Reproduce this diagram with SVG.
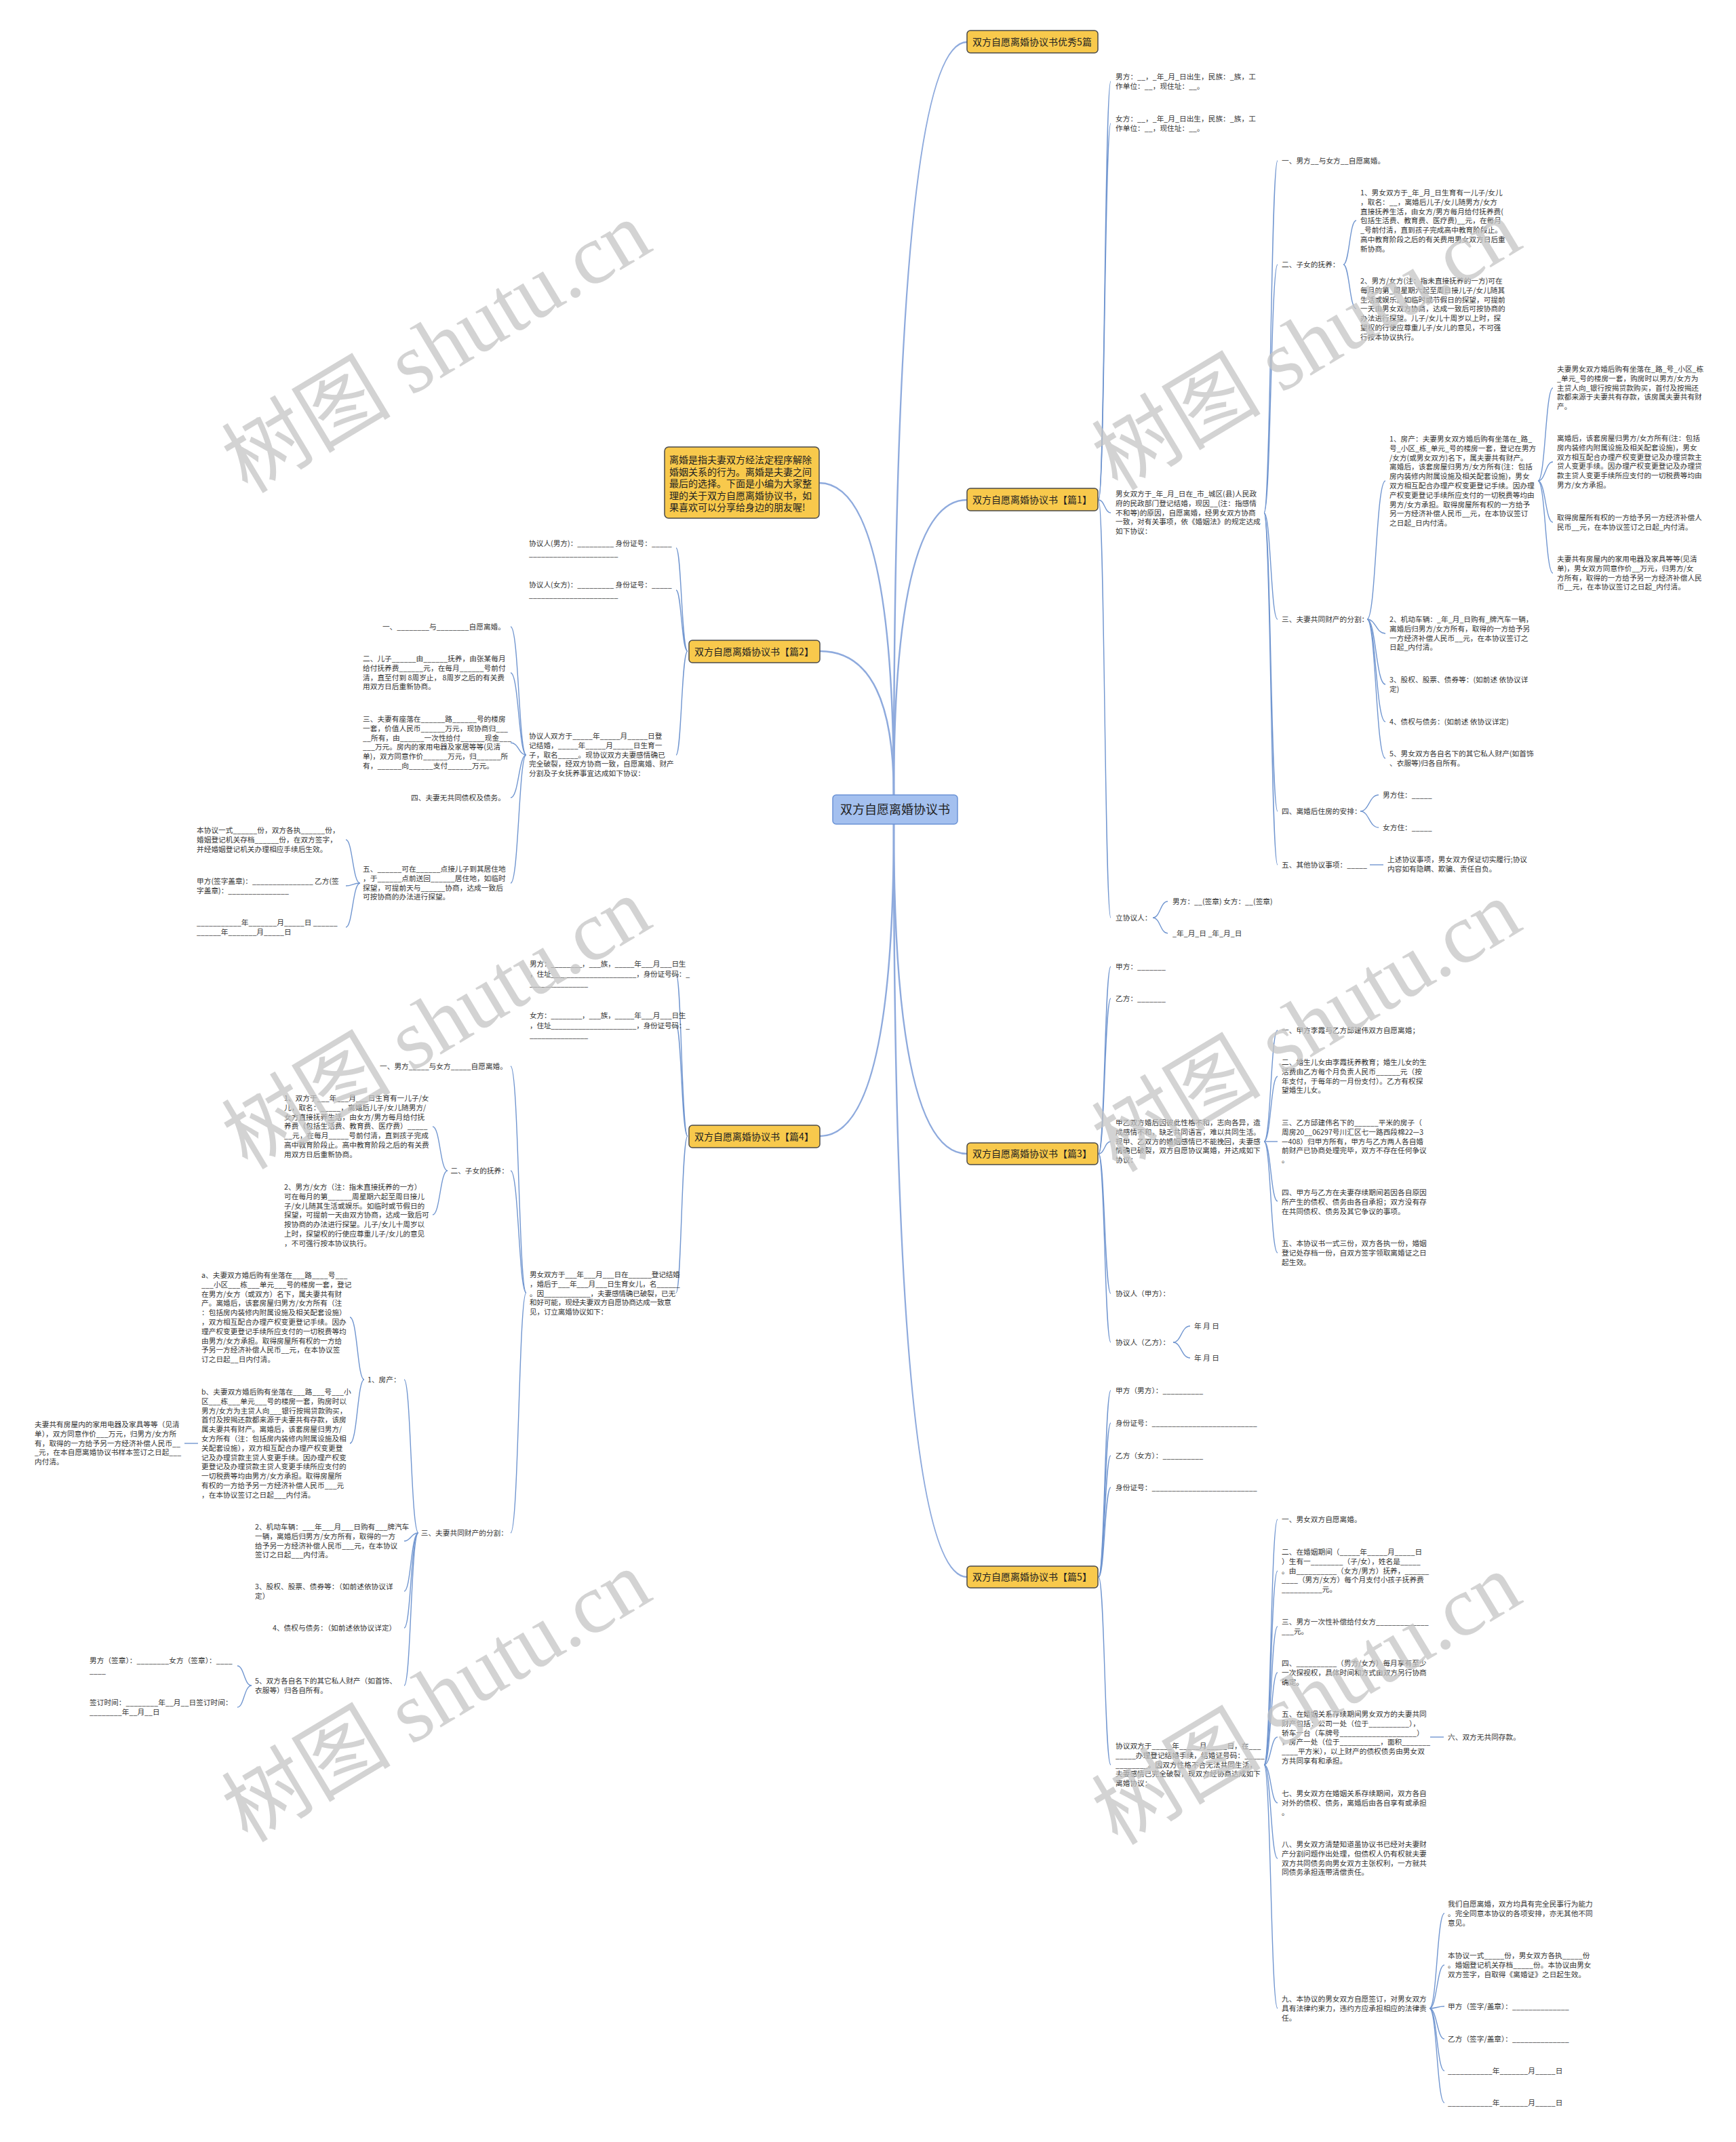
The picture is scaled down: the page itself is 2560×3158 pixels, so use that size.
<svg xmlns="http://www.w3.org/2000/svg" width="2560" height="3158" viewBox="0 0 2560 3158">
<style>
.t{font-family:"Noto Sans CJK SC","Noto Sans",sans-serif;font-size:10.7px;fill:#333}
.n{letter-spacing:-0.25px}
.bt{font-family:"Noto Sans CJK SC","Noto Sans",sans-serif;font-size:14px;fill:#222}
.ct{font-family:"Noto Sans CJK SC","Noto Sans",sans-serif;font-size:18px;fill:#222}
.yb{fill:#f8c94c;stroke:#4a4a4a;stroke-width:1.5}
.cb{fill:#a4c0ef;stroke:#6b93d6;stroke-width:1.5}
.m{fill:none;stroke:#8eaadd;stroke-width:2.5}
.c{fill:none;stroke:#7196d0;stroke-width:1.4}
.wm{font-family:"Liberation Serif","Noto Sans CJK SC",serif;font-size:125px;fill:#c4c4c4;fill-opacity:0.75}
</style>
<rect width="2560" height="3158" fill="#ffffff"/>
<g id="connectors">
<path class="m" d="M1318 1172 Q1318 62 1426 62"/>
<path class="m" d="M1318 1172 Q1318 737 1426 737"/>
<path class="m" d="M1318 1172 Q1318 712 1208 712"/>
<path class="m" d="M1318 1172 Q1318 960 1209 960"/>
<path class="m" d="M1318 1215 Q1318 1701 1426 1701"/>
<path class="m" d="M1318 1215 Q1318 2325 1426 2325"/>
<path class="m" d="M1318 1215 Q1318 1675 1209 1675"/>
<path class="c" d="M1620 737 C1629 737 1629 120 1638 120"/>
<path class="c" d="M1620 737 C1629 737 1629 182 1638 182"/>
<path class="c" d="M1620 737 C1629 737 1629 756 1638 756"/>
<path class="c" d="M1620 737 C1629 737 1629 1353 1638 1353"/>
<path class="c" d="M1864 756 C1874 756 1874 237 1884 237"/>
<path class="c" d="M1864 756 C1874 756 1874 390 1884 390"/>
<path class="c" d="M1864 756 C1874 756 1874 913 1884 913"/>
<path class="c" d="M1864 756 C1874 756 1874 1196 1884 1196"/>
<path class="c" d="M1864 756 C1874 756 1874 1275 1884 1275"/>
<path class="c" d="M1981 390 C1990 390 1990 325 2000 325"/>
<path class="c" d="M1981 390 C1990 390 1990 455 2000 455"/>
<path class="c" d="M2016 913 C2029 913 2029 709 2043 709"/>
<path class="c" d="M2016 913 C2029 913 2029 934 2043 934"/>
<path class="c" d="M2016 913 C2029 913 2029 1009 2043 1009"/>
<path class="c" d="M2016 913 C2029 913 2029 1064 2043 1064"/>
<path class="c" d="M2016 913 C2029 913 2029 1118 2043 1118"/>
<path class="c" d="M2268 709 C2279 709 2279 572 2290 572"/>
<path class="c" d="M2268 709 C2279 709 2279 681 2290 681"/>
<path class="c" d="M2268 709 C2279 709 2279 770 2290 770"/>
<path class="c" d="M2268 709 C2279 709 2279 845 2290 845"/>
<path class="c" d="M2006 1196 C2019 1196 2019 1172 2033 1172"/>
<path class="c" d="M2006 1196 C2019 1196 2019 1220 2033 1220"/>
<path class="c" d="M2020 1275 L2040 1275"/>
<path class="c" d="M1700 1353 C1711 1353 1711 1329 1722 1329"/>
<path class="c" d="M1700 1353 C1711 1353 1711 1376 1722 1376"/>
<path class="c" d="M1620 1701 C1629 1701 1629 1425 1638 1425"/>
<path class="c" d="M1620 1701 C1629 1701 1629 1472 1638 1472"/>
<path class="c" d="M1620 1701 C1629 1701 1629 1683 1638 1683"/>
<path class="c" d="M1620 1701 C1629 1701 1629 1907 1638 1907"/>
<path class="c" d="M1620 1701 C1629 1701 1629 1979 1638 1979"/>
<path class="c" d="M1864 1683 C1874 1683 1874 1519 1884 1519"/>
<path class="c" d="M1864 1683 C1874 1683 1874 1587 1884 1587"/>
<path class="c" d="M1864 1683 C1874 1683 1874 1683 1884 1683"/>
<path class="c" d="M1864 1683 C1874 1683 1874 1771 1884 1771"/>
<path class="c" d="M1864 1683 C1874 1683 1874 1847 1884 1847"/>
<path class="c" d="M1730 1979 C1742 1979 1742 1955 1755 1955"/>
<path class="c" d="M1730 1979 C1742 1979 1742 2002 1755 2002"/>
<path class="c" d="M1620 2325 C1629 2325 1629 2050 1638 2050"/>
<path class="c" d="M1620 2325 C1629 2325 1629 2098 1638 2098"/>
<path class="c" d="M1620 2325 C1629 2325 1629 2146 1638 2146"/>
<path class="c" d="M1620 2325 C1629 2325 1629 2193 1638 2193"/>
<path class="c" d="M1620 2325 C1629 2325 1629 2602 1638 2602"/>
<path class="c" d="M1864 2602 C1874 2602 1874 2240 1884 2240"/>
<path class="c" d="M1864 2602 C1874 2602 1874 2316 1884 2316"/>
<path class="c" d="M1864 2602 C1874 2602 1874 2398 1884 2398"/>
<path class="c" d="M1864 2602 C1874 2602 1874 2466 1884 2466"/>
<path class="c" d="M1864 2602 C1874 2602 1874 2561 1884 2561"/>
<path class="c" d="M1864 2602 C1874 2602 1874 2658 1884 2658"/>
<path class="c" d="M1864 2602 C1874 2602 1874 2740 1884 2740"/>
<path class="c" d="M1864 2602 C1874 2602 1874 2961 1884 2961"/>
<path class="c" d="M2109 2561 L2129 2561"/>
<path class="c" d="M2108 2961 C2119 2961 2119 2821 2130 2821"/>
<path class="c" d="M2108 2961 C2119 2961 2119 2897 2130 2897"/>
<path class="c" d="M2108 2961 C2119 2961 2119 2958 2130 2958"/>
<path class="c" d="M2108 2961 C2119 2961 2119 3006 2130 3006"/>
<path class="c" d="M2108 2961 C2119 2961 2119 3053 2130 3053"/>
<path class="c" d="M2108 2961 C2119 2961 2119 3100 2130 3100"/>
<path class="c" d="M1014 960 C1005 960 1005 808 997 808"/>
<path class="c" d="M1014 960 C1005 960 1005 870 997 870"/>
<path class="c" d="M1014 960 C1005 960 1005 1113 997 1113"/>
<path class="c" d="M776 1113 C765 1113 765 924 753 924"/>
<path class="c" d="M776 1113 C765 1113 765 992 753 992"/>
<path class="c" d="M776 1113 C765 1113 765 1095 753 1095"/>
<path class="c" d="M776 1113 C765 1113 765 1176 753 1176"/>
<path class="c" d="M776 1113 C765 1113 765 1302 753 1302"/>
<path class="c" d="M531 1302 C520 1302 520 1238 510 1238"/>
<path class="c" d="M531 1302 C520 1302 520 1306 510 1306"/>
<path class="c" d="M531 1302 C520 1302 520 1367 510 1367"/>
<path class="c" d="M1014 1675 C1005 1675 1005 1436 997 1436"/>
<path class="c" d="M1014 1675 C1005 1675 1005 1511 997 1511"/>
<path class="c" d="M1014 1675 C1005 1675 1005 1906 997 1906"/>
<path class="c" d="M776 1906 C765 1906 765 1572 753 1572"/>
<path class="c" d="M776 1906 C765 1906 765 1726 753 1726"/>
<path class="c" d="M776 1906 C765 1906 765 2260 753 2260"/>
<path class="c" d="M660 1726 C649 1726 649 1661 638 1661"/>
<path class="c" d="M660 1726 C649 1726 649 1791 638 1791"/>
<path class="c" d="M617 2260 C606 2260 606 2034 596 2034"/>
<path class="c" d="M617 2260 C606 2260 606 2272 596 2272"/>
<path class="c" d="M617 2260 C606 2260 606 2346 596 2346"/>
<path class="c" d="M617 2260 C606 2260 606 2400 596 2400"/>
<path class="c" d="M617 2260 C606 2260 606 2485 596 2485"/>
<path class="c" d="M537 2034 C527 2034 527 1942 516 1942"/>
<path class="c" d="M537 2034 C527 2034 527 2128 516 2128"/>
<path class="c" d="M292 2128 L272 2128"/>
<path class="c" d="M371 2485 C360 2485 360 2456 350 2456"/>
<path class="c" d="M371 2485 C360 2485 360 2517 350 2517"/>
</g>

<g id="center">
<rect class="cb" x="1228" y="1172" width="184" height="43" rx="5"/>
<text class="ct" x="1320" y="1200" text-anchor="middle">双方自愿离婚协议书</text>
</g>
<g id="title">
<rect class="yb" x="1426" y="45" width="193" height="33" rx="5"/>
<text class="bt" x="1522" y="67" text-anchor="middle">双方自愿离婚协议书优秀5篇</text>
</g>
<g id="intro">
<rect class="yb" x="980" y="659" width="228" height="105" rx="6"/>
<text class="bt" x="987" y="683"><tspan x="987">离婚是指夫妻双方经法定程序解除</tspan><tspan x="987" dy="17.6">婚姻关系的行为。离婚是夫妻之间</tspan><tspan x="987" dy="17.6">最后的选择。下面是小编为大家整</tspan><tspan x="987" dy="17.6">理的关于双方自愿离婚协议书，如</tspan><tspan x="987" dy="17.6">果喜欢可以分享给身边的朋友喔!</tspan></text>
</g>

<g id="p1">
<rect class="yb" x="1426" y="720" width="193" height="33" rx="5"/>
<text class="bt" x="1522" y="742" text-anchor="middle">双方自愿离婚协议书【篇1】</text>
</g>
<g id="p1-man"><text class="t" x="1645" y="117"><tspan x="1645">男方：__，_年_月_日出生，民族：_族，工</tspan><tspan x="1645" dy="13.8">作单位：__，现住址：__。</tspan></text></g>
<g id="p1-woman"><text class="t" x="1645" y="179"><tspan x="1645">女方：__，_年_月_日出生，民族：_族，工</tspan><tspan x="1645" dy="13.8">作单位：__，现住址：__。</tspan></text></g>
<g id="p1-root"><text class="t" x="1645" y="732"><tspan x="1645">男女双方于_年_月_日在_市_城区(县)人民政</tspan><tspan x="1645" dy="13.8">府的民政部门登记结婚，现因__(注：指感情</tspan><tspan x="1645" dy="13.8">不和等)的原因，自愿离婚，经男女双方协商</tspan><tspan x="1645" dy="13.8">一致，对有关事项，依《婚姻法》的规定达成</tspan><tspan x="1645" dy="13.8">如下协议：</tspan></text></g>
<g id="p1-1"><text class="t" x="1890" y="241">一、男方__与女方__自愿离婚。</text></g>
<g id="p1-2"><text class="t" x="1890" y="394">二、子女的抚养：</text></g>
<g id="p1-2-1"><text class="t" x="2006" y="288"><tspan x="2006">1、男女双方于_年_月_日生育有一儿子/女儿</tspan><tspan x="2006" dy="13.8">，取名：__，离婚后儿子/女儿随男方/女方</tspan><tspan x="2006" dy="13.8">直接抚养生活，由女方/男方每月给付抚养费(</tspan><tspan x="2006" dy="13.8">包括生活费、教育费、医疗费)__元，在每月</tspan><tspan x="2006" dy="13.8">_号前付清，直到孩子完成高中教育阶段止。</tspan><tspan x="2006" dy="13.8">高中教育阶段之后的有关费用男女双方日后重</tspan><tspan x="2006" dy="13.8">新协商。</tspan></text></g>
<g id="p1-2-2"><text class="t" x="2006" y="418"><tspan x="2006">2、男方/女方(注：指未直接抚养的一方)可在</tspan><tspan x="2006" dy="13.8">每月的第_周星期六起至周日接儿子/女儿随其</tspan><tspan x="2006" dy="13.8">生活或娱乐。如临时或节假日的探望，可提前</tspan><tspan x="2006" dy="13.8">一天由男女双方协商，达成一致后可按协商的</tspan><tspan x="2006" dy="13.8">办法进行探望。儿子/女儿十周岁以上时，探</tspan><tspan x="2006" dy="13.8">望权的行使应尊重儿子/女儿的意见，不可强</tspan><tspan x="2006" dy="13.8">行按本协议执行。</tspan></text></g>
<g id="p1-3"><text class="t" x="1890" y="917">三、夫妻共同财产的分割：</text></g>
<g id="p1-3-1"><text class="t" x="2049" y="651"><tspan x="2049">1、房产：夫妻男女双方婚后购有坐落在_路_</tspan><tspan x="2049" dy="13.8">号_小区_栋_单元_号的楼房一套，登记在男方</tspan><tspan x="2049" dy="13.8">/女方(或男女双方)名下，属夫妻共有财产。</tspan><tspan x="2049" dy="13.8">离婚后，该套房屋归男方/女方所有(注：包括</tspan><tspan x="2049" dy="13.8">房内装修内附属设施及相关配套设施)，男女</tspan><tspan x="2049" dy="13.8">双方相互配合办理产权变更登记手续。因办理</tspan><tspan x="2049" dy="13.8">产权变更登记手续所应支付的一切税费等均由</tspan><tspan x="2049" dy="13.8">男方/女方承担。取得房屋所有权的一方给予</tspan><tspan x="2049" dy="13.8">另一方经济补偿人民币__元，在本协议签订</tspan><tspan x="2049" dy="13.8">之日起_日内付清。</tspan></text></g>
<g id="p1-3-1-a"><text class="t" x="2296" y="548"><tspan x="2296">夫妻男女双方婚后购有坐落在_路_号_小区_栋</tspan><tspan x="2296" dy="13.8">_单元_号的楼房一套，购房时以男方/女方为</tspan><tspan x="2296" dy="13.8">主贷人向_银行按揭贷款购买，首付及按揭还</tspan><tspan x="2296" dy="13.8">款都来源于夫妻共有存款，该房属夫妻共有财</tspan><tspan x="2296" dy="13.8">产。</tspan></text></g>
<g id="p1-3-1-b"><text class="t" x="2296" y="650"><tspan x="2296">离婚后，该套房屋归男方/女方所有(注：包括</tspan><tspan x="2296" dy="13.8">房内装修内附属设施及相关配套设施)，男女</tspan><tspan x="2296" dy="13.8">双方相互配合办理产权变更登记及办理贷款主</tspan><tspan x="2296" dy="13.8">贷人变更手续。因办理产权变更登记及办理贷</tspan><tspan x="2296" dy="13.8">款主贷人变更手续所应支付的一切税费等均由</tspan><tspan x="2296" dy="13.8">男方/女方承担。</tspan></text></g>
<g id="p1-3-1-c"><text class="t" x="2296" y="767"><tspan x="2296">取得房屋所有权的一方给予另一方经济补偿人</tspan><tspan x="2296" dy="13.8">民币__元，在本协议签订之日起_内付清。</tspan></text></g>
<g id="p1-3-1-d"><text class="t" x="2296" y="828"><tspan x="2296">夫妻共有房屋内的家用电器及家具等等(见清</tspan><tspan x="2296" dy="13.8">单)，男女双方同意作价__万元，归男方/女</tspan><tspan x="2296" dy="13.8">方所有，取得的一方给予另一方经济补偿人民</tspan><tspan x="2296" dy="13.8">币__元，在本协议签订之日起_内付清。</tspan></text></g>
<g id="p1-3-2"><text class="t" x="2049" y="917"><tspan x="2049">2、机动车辆：_年_月_日购有_牌汽车一辆，</tspan><tspan x="2049" dy="13.8">离婚后归男方/女方所有，取得的一方给予另</tspan><tspan x="2049" dy="13.8">一方经济补偿人民币__元，在本协议签订之</tspan><tspan x="2049" dy="13.8">日起_内付清。</tspan></text></g>
<g id="p1-3-3"><text class="t" x="2049" y="1006"><tspan x="2049">3、股权、股票、债券等：(如前述 依协议详</tspan><tspan x="2049" dy="13.8">定)</tspan></text></g>
<g id="p1-3-4"><text class="t" x="2049" y="1068">4、债权与债务：(如前述 依协议详定)</text></g>
<g id="p1-3-5"><text class="t" x="2049" y="1115"><tspan x="2049">5、男女双方各自名下的其它私人财产(如首饰</tspan><tspan x="2049" dy="13.8">、衣服等)归各自所有。</tspan></text></g>
<g id="p1-4"><text class="t" x="1890" y="1200">四、离婚后住房的安排：</text></g>
<g id="p1-4-1"><text class="t" x="2039" y="1176">男方住：_____</text></g>
<g id="p1-4-2"><text class="t" x="2039" y="1224">女方住：_____</text></g>
<g id="p1-5"><text class="t" x="1890" y="1279">五、其他协议事项：_____</text></g>
<g id="p1-5-1"><text class="t" x="2046" y="1271"><tspan x="2046">上述协议事项，男女双方保证切实履行;协议</tspan><tspan x="2046" dy="13.8">内容如有隐瞒、欺骗、责任自负。</tspan></text></g>
<g id="p1-sign"><text class="t" x="1645" y="1357">立协议人：</text></g>
<g id="p1-sign-1"><text class="t" x="1729" y="1333">男方：__(签章) 女方：__(签章)</text></g>
<g id="p1-sign-2"><text class="t" x="1729" y="1380">_年_月_日 _年_月_日</text></g>

<g id="p3">
<rect class="yb" x="1426" y="1685" width="193" height="32" rx="5"/>
<text class="bt" x="1522" y="1706" text-anchor="middle">双方自愿离婚协议书【篇3】</text>
</g>
<g id="p3-a"><text class="t" x="1645" y="1429">甲方：_______</text></g>
<g id="p3-b"><text class="t" x="1645" y="1476">乙方：_______</text></g>
<g id="p3-root"><text class="t" x="1645" y="1659"><tspan x="1645">甲乙双方婚后因彼此性格不和，志向各异，造</tspan><tspan x="1645" dy="13.8">成感情不和，缺乏共同语言，难以共同生活。</tspan><tspan x="1645" dy="13.8">现甲、乙双方的婚姻感情已不能挽回，夫妻感</tspan><tspan x="1645" dy="13.8">情确已破裂，双方自愿协议离婚，并达成如下</tspan><tspan x="1645" dy="13.8">协议：</tspan></text></g>
<g id="p3-1"><text class="t" x="1890" y="1523">一、甲方李霞与乙方邱建伟双方自愿离婚；</text></g>
<g id="p3-2"><text class="t" x="1890" y="1570"><tspan x="1890">二、婚生儿女由李霞抚养教育；婚生儿女的生</tspan><tspan x="1890" dy="13.8">活费由乙方每个月负责人民币______元（按</tspan><tspan x="1890" dy="13.8">年支付，于每年的一月份支付）。乙方有权探</tspan><tspan x="1890" dy="13.8">望婚生儿女。</tspan></text></g>
<g id="p3-3"><text class="t" x="1890" y="1659"><tspan x="1890">三、乙方邱建伟名下的______平米的房子（</tspan><tspan x="1890" dy="13.8">周房20__06297号川汇区七一路西段棉22—3</tspan><tspan x="1890" dy="13.8">—408）归甲方所有，甲方与乙方两人各自婚</tspan><tspan x="1890" dy="13.8">前财产已协商处理完毕，双方不存在任何争议</tspan><tspan x="1890" dy="13.8">。</tspan></text></g>
<g id="p3-4"><text class="t" x="1890" y="1762"><tspan x="1890">四、甲方与乙方在夫妻存续期间若因各自原因</tspan><tspan x="1890" dy="13.8">所产生的债权、债务由各自承担；双方没有存</tspan><tspan x="1890" dy="13.8">在共同债权、债务及其它争议的事项。</tspan></text></g>
<g id="p3-5"><text class="t" x="1890" y="1837"><tspan x="1890">五、本协议书一式三份，双方各执一份，婚姻</tspan><tspan x="1890" dy="13.8">登记处存档一份，自双方签字领取离婚证之日</tspan><tspan x="1890" dy="13.8">起生效。</tspan></text></g>
<g id="p3-sa"><text class="t" x="1645" y="1911">协议人（甲方）：</text></g>
<g id="p3-sb"><text class="t" x="1645" y="1983">协议人（乙方）：</text></g>
<g id="p3-sb-1"><text class="t" x="1761" y="1959">年 月 日</text></g>
<g id="p3-sb-2"><text class="t" x="1761" y="2006">年 月 日</text></g>

<g id="p5">
<rect class="yb" x="1426" y="2309" width="193" height="32" rx="5"/>
<text class="bt" x="1522" y="2330" text-anchor="middle">双方自愿离婚协议书【篇5】</text>
</g>
<g id="p5-a"><text class="t" x="1645" y="2054">甲方（男方）：__________</text></g>
<g id="p5-aid"><text class="t" x="1645" y="2102">身份证号：__________________________</text></g>
<g id="p5-b"><text class="t" x="1645" y="2150">乙方（女方）：__________</text></g>
<g id="p5-bid"><text class="t" x="1645" y="2197">身份证号：__________________________</text></g>
<g id="p5-root"><text class="t" x="1645" y="2578"><tspan x="1645">协议双方于_____年_____月_____日，在___</tspan><tspan x="1645" dy="13.8">_____办理登记结婚手续，结婚证号码：_____</tspan><tspan x="1645" dy="13.8">________。因双方性格不合无法共同生活，</tspan><tspan x="1645" dy="13.8">夫妻感情已完全破裂，现双方经协商达成如下</tspan><tspan x="1645" dy="13.8">离婚协议：</tspan></text></g>
<g id="p5-1"><text class="t" x="1890" y="2244">一、男女双方自愿离婚。</text></g>
<g id="p5-2"><text class="t" x="1890" y="2292"><tspan x="1890">二、在婚姻期间（_____年_____月_____日</tspan><tspan x="1890" dy="13.8">）生有一________（子/女），姓名是_____</tspan><tspan x="1890" dy="13.8">。由__________（女方/男方）抚养，______</tspan><tspan x="1890" dy="13.8">____（男方/女方）每个月支付小孩子抚养费</tspan><tspan x="1890" dy="13.8">__________元。</tspan></text></g>
<g id="p5-3"><text class="t" x="1890" y="2395"><tspan x="1890">三、男方一次性补偿给付女方_____________</tspan><tspan x="1890" dy="13.8">___元。</tspan></text></g>
<g id="p5-4"><text class="t" x="1890" y="2456"><tspan x="1890">四、__________（男方/女方）每月享有至少</tspan><tspan x="1890" dy="13.8">一次探视权，具体时间和方式由双方另行协商</tspan><tspan x="1890" dy="13.8">确定。</tspan></text></g>
<g id="p5-5"><text class="t" x="1890" y="2531"><tspan x="1890">五、在婚姻关系存续期间男女双方的夫妻共同</tspan><tspan x="1890" dy="13.8">财产包括：公司一处（位于__________），</tspan><tspan x="1890" dy="13.8">轿车一台（车牌号___________________）</tspan><tspan x="1890" dy="13.8">，房产一处（位于__________，面积_______</tspan><tspan x="1890" dy="13.8">____平方米），以上财产的债权债务由男女双</tspan><tspan x="1890" dy="13.8">方共同享有和承担。</tspan></text></g>
<g id="p5-6"><text class="t" x="2135" y="2565">六、双方无共同存款。</text></g>
<g id="p5-7"><text class="t" x="1890" y="2648"><tspan x="1890">七、男女双方在婚姻关系存续期间，双方各自</tspan><tspan x="1890" dy="13.8">对外的债权、债务，离婚后由各自享有或承担</tspan><tspan x="1890" dy="13.8">。</tspan></text></g>
<g id="p5-8"><text class="t" x="1890" y="2723"><tspan x="1890">八、男女双方清楚知道虽协议书已经对夫妻财</tspan><tspan x="1890" dy="13.8">产分割问题作出处理，但债权人仍有权就夫妻</tspan><tspan x="1890" dy="13.8">双方共同债务向男女双方主张权利，一方就共</tspan><tspan x="1890" dy="13.8">同债务承担连带清偿责任。</tspan></text></g>
<g id="p5-9"><text class="t" x="1890" y="2951"><tspan x="1890">九、本协议的男女双方自愿签订，对男女双方</tspan><tspan x="1890" dy="13.8">具有法律约束力，违约方应承担相应的法律责</tspan><tspan x="1890" dy="13.8">任。</tspan></text></g>
<g id="p5-9-1"><text class="t" x="2135" y="2811"><tspan x="2135">我们自愿离婚，双方均具有完全民事行为能力</tspan><tspan x="2135" dy="13.8">。完全同意本协议的各项安排，亦无其他不同</tspan><tspan x="2135" dy="13.8">意见。</tspan></text></g>
<g id="p5-9-2"><text class="t" x="2135" y="2887"><tspan x="2135">本协议一式_____份，男女双方各执_____份</tspan><tspan x="2135" dy="13.8">。婚姻登记机关存档_____份。本协议由男女</tspan><tspan x="2135" dy="13.8">双方签字，自取得《离婚证》之日起生效。</tspan></text></g>
<g id="p5-9-3"><text class="t" x="2135" y="2962">甲方（签字/盖章）：______________</text></g>
<g id="p5-9-4"><text class="t" x="2135" y="3010">乙方（签字/盖章）：______________</text></g>
<g id="p5-9-5"><text class="t" x="2135" y="3057">___________年_______月_____日</text></g>
<g id="p5-9-6"><text class="t" x="2135" y="3104">___________年_______月_____日</text></g>

<g id="p2">
<rect class="yb" x="1016" y="944" width="193" height="33" rx="5"/>
<text class="bt" x="1112" y="966" text-anchor="middle">双方自愿离婚协议书【篇2】</text>
</g>
<g id="p2-a"><text class="t" x="780" y="805"><tspan x="780">协议人(男方)：_________ 身份证号：_____</tspan><tspan x="780" dy="14.5">______________________</tspan></text></g>
<g id="p2-b"><text class="t" x="780" y="866"><tspan x="780">协议人(女方)：_________ 身份证号：_____</tspan><tspan x="780" dy="14.5">______________________</tspan></text></g>
<g id="p2-root"><text class="t" x="780" y="1089"><tspan x="780">协议人双方于_____年_____月_____日登</tspan><tspan x="780" dy="13.8">记结婚，_____年_____月_____日生育一</tspan><tspan x="780" dy="13.8">子，取名_____。现协议双方夫妻感情确已</tspan><tspan x="780" dy="13.8">完全破裂，经双方协商一致，自愿离婚、财产</tspan><tspan x="780" dy="13.8">分割及子女抚养事宜达成如下协议：</tspan></text></g>
<g id="p2-1"><text class="t" x="745" y="928" text-anchor="end">一、________与________自愿离婚。</text></g>
<g id="p2-2"><text class="t" x="535" y="975"><tspan x="535">二、儿子______由______抚养，由张某每月</tspan><tspan x="535" dy="13.8">给付抚养费______元，在每月______号前付</tspan><tspan x="535" dy="13.8">清，直至付到 8周岁止， 8周岁之后的有关费</tspan><tspan x="535" dy="13.8">用双方日后重新协商。</tspan></text></g>
<g id="p2-3"><text class="t" x="535" y="1064"><tspan x="535">三、夫妻有座落在______路______号的楼房</tspan><tspan x="535" dy="13.8">一套，价值人民币______万元，现协商归___</tspan><tspan x="535" dy="13.8">__所有，由______一次性给付______现金___</tspan><tspan x="535" dy="13.8">___万元。房内的家用电器及家居等等(见清</tspan><tspan x="535" dy="13.8">单)，双方同意作价______万元，归______所</tspan><tspan x="535" dy="13.8">有，______向______支付______万元。</tspan></text></g>
<g id="p2-4"><text class="t" x="745" y="1180" text-anchor="end">四、夫妻无共同债权及债务。</text></g>
<g id="p2-5"><text class="t" x="535" y="1285"><tspan x="535">五、______可在______点接儿子到其居住地</tspan><tspan x="535" dy="13.8">，于______点前送回______居住地，如临时</tspan><tspan x="535" dy="13.8">探望，可提前天与______协商，达成一致后</tspan><tspan x="535" dy="13.8">可按协商的办法进行探望。</tspan></text></g>
<g id="p2-5-1"><text class="t" x="290" y="1228"><tspan x="290">本协议一式______份，双方各执______份，</tspan><tspan x="290" dy="13.8">婚姻登记机关存档______份，在双方签字，</tspan><tspan x="290" dy="13.8">并经婚姻登记机关办理相应手续后生效。</tspan></text></g>
<g id="p2-5-2"><text class="t" x="290" y="1303"><tspan x="290">甲方(签字盖章)：_______________ 乙方(签</tspan><tspan x="290" dy="13.8">字盖章)：_______________</tspan></text></g>
<g id="p2-5-3"><text class="t" x="290" y="1364"><tspan x="290">___________年_______月_____日 ______</tspan><tspan x="290" dy="13.8">______年_______月_____日</tspan></text></g>

<g id="p4">
<rect class="yb" x="1016" y="1659" width="193" height="33" rx="5"/>
<text class="bt" x="1112" y="1681" text-anchor="middle">双方自愿离婚协议书【篇4】</text>
</g>
<g id="p4-a"><text class="t n" x="781" y="1425"><tspan x="781">男方：________，___族，_____年___月___日生</tspan><tspan x="781" dy="14.5">，住址______________________，身份证号码：_</tspan><tspan x="781" dy="14.5">_______________</tspan></text></g>
<g id="p4-b"><text class="t n" x="781" y="1501"><tspan x="781">女方：________，___族，_____年___月___日生</tspan><tspan x="781" dy="14.5">，住址______________________，身份证号码：_</tspan><tspan x="781" dy="14.5">_______________</tspan></text></g>
<g id="p4-root"><text class="t n" x="781" y="1883"><tspan x="781">男女双方于___年___月___日在______登记结婚</tspan><tspan x="781" dy="13.8">，婚后于___年___月___日生育女儿，名______</tspan><tspan x="781" dy="13.8">。因____________，夫妻感情确已破裂，已无</tspan><tspan x="781" dy="13.8">和好可能，现经夫妻双方自愿协商达成一致意</tspan><tspan x="781" dy="13.8">见，订立离婚协议如下：</tspan></text></g>
<g id="p4-1"><text class="t" x="748" y="1576" text-anchor="end">一、男方_____与女方_____自愿离婚。</text></g>
<g id="p4-2"><text class="t" x="750" y="1730" text-anchor="end">二、子女的抚养：</text></g>
<g id="p4-2-1"><text class="t" x="419" y="1623"><tspan x="419">1、双方于___年___月___日生育有一儿子/女</tspan><tspan x="419" dy="13.8">儿，取名：_____，离婚后儿子/女儿随男方/</tspan><tspan x="419" dy="13.8">女方直接抚养生活，由女方/男方每月给付抚</tspan><tspan x="419" dy="13.8">养费（包括生活费、教育费、医疗费）_____</tspan><tspan x="419" dy="13.8">__元，在每月_____号前付清，直到孩子完成</tspan><tspan x="419" dy="13.8">高中教育阶段止。高中教育阶段之后的有关费</tspan><tspan x="419" dy="13.8">用双方日后重新协商。</tspan></text></g>
<g id="p4-2-2"><text class="t" x="419" y="1754"><tspan x="419">2、男方/女方（注：指未直接抚养的一方）</tspan><tspan x="419" dy="13.8">可在每月的第______周星期六起至周日接儿</tspan><tspan x="419" dy="13.8">子/女儿随其生活或娱乐。如临时或节假日的</tspan><tspan x="419" dy="13.8">探望，可提前一天由双方协商，达成一致后可</tspan><tspan x="419" dy="13.8">按协商的办法进行探望。儿子/女儿十周岁以</tspan><tspan x="419" dy="13.8">上时，探望权的行使应尊重儿子/女儿的意见</tspan><tspan x="419" dy="13.8">，不可强行按本协议执行。</tspan></text></g>
<g id="p4-3"><text class="t" x="749" y="2264" text-anchor="end">三、夫妻共同财产的分割：</text></g>
<g id="p4-3-1"><text class="t" x="542" y="2038">1、房产：</text></g>
<g id="p4-3-1-a"><text class="t" x="297" y="1884"><tspan x="297">a、夫妻双方婚后购有坐落在___路____号___</tspan><tspan x="297" dy="13.8">___小区___栋___单元___号的楼房一套，登记</tspan><tspan x="297" dy="13.8">在男方/女方（或双方）名下，属夫妻共有财</tspan><tspan x="297" dy="13.8">产。离婚后，该套房屋归男方/女方所有（注</tspan><tspan x="297" dy="13.8">：包括房内装修内附属设施及相关配套设施）</tspan><tspan x="297" dy="13.8">，双方相互配合办理产权变更登记手续。因办</tspan><tspan x="297" dy="13.8">理产权变更登记手续所应支付的一切税费等均</tspan><tspan x="297" dy="13.8">由男方/女方承担。取得房屋所有权的一方给</tspan><tspan x="297" dy="13.8">予另一方经济补偿人民币__元，在本协议签</tspan><tspan x="297" dy="13.8">订之日起__日内付清。</tspan></text></g>
<g id="p4-3-1-b"><text class="t" x="297" y="2056"><tspan x="297">b、夫妻双方婚后购有坐落在___路___号___小</tspan><tspan x="297" dy="13.8">区___栋___单元___号的楼房一套，购房时以</tspan><tspan x="297" dy="13.8">男方/女方为主贷人向___银行按揭贷款购买，</tspan><tspan x="297" dy="13.8">首付及按揭还款都来源于夫妻共有存款，该房</tspan><tspan x="297" dy="13.8">属夫妻共有财产。离婚后，该套房屋归男方/</tspan><tspan x="297" dy="13.8">女方所有（注：包括房内装修内附属设施及相</tspan><tspan x="297" dy="13.8">关配套设施），双方相互配合办理产权变更登</tspan><tspan x="297" dy="13.8">记及办理贷款主贷人变更手续。因办理产权变</tspan><tspan x="297" dy="13.8">更登记及办理贷款主贷人变更手续所应支付的</tspan><tspan x="297" dy="13.8">一切税费等均由男方/女方承担。取得房屋所</tspan><tspan x="297" dy="13.8">有权的一方给予另一方经济补偿人民币___元</tspan><tspan x="297" dy="13.8">，在本协议签订之日起___内付清。</tspan></text></g>
<g id="p4-3-1-b-1"><text class="t" x="51" y="2104"><tspan x="51">夫妻共有房屋内的家用电器及家具等等（见清</tspan><tspan x="51" dy="13.8">单），双方同意作价___万元，归男方/女方所</tspan><tspan x="51" dy="13.8">有，取得的一方给予另一方经济补偿人民币__</tspan><tspan x="51" dy="13.8">_元，在本自愿离婚协议书样本签订之日起___</tspan><tspan x="51" dy="13.8">内付清。</tspan></text></g>
<g id="p4-3-2"><text class="t" x="376" y="2255"><tspan x="376">2、机动车辆：___年___月___日购有___牌汽车</tspan><tspan x="376" dy="13.8">一辆，离婚后归男方/女方所有，取得的一方</tspan><tspan x="376" dy="13.8">给予另一方经济补偿人民币___元，在本协议</tspan><tspan x="376" dy="13.8">签订之日起___内付清。</tspan></text></g>
<g id="p4-3-3"><text class="t" x="376" y="2343"><tspan x="376">3、股权、股票、债券等：（如前述依协议详</tspan><tspan x="376" dy="13.8">定）</tspan></text></g>
<g id="p4-3-4"><text class="t" x="402" y="2404">4、债权与债务：（如前述依协议详定）</text></g>
<g id="p4-3-5"><text class="t" x="376" y="2482"><tspan x="376">5、双方各自名下的其它私人财产（如首饰、</tspan><tspan x="376" dy="13.8">衣服等）归各自所有。</tspan></text></g>
<g id="p4-3-5-1"><text class="t" x="132" y="2452"><tspan x="132">男方（签章）：________女方（签章）：____</tspan><tspan x="132" dy="14.5">____</tspan></text></g>
<g id="p4-3-5-2"><text class="t" x="132" y="2514"><tspan x="132">签订时间：________年__月__日签订时间：</tspan><tspan x="132" dy="13.8">________年__月__日</tspan></text></g>

<g id="watermarks">
<text class="wm" x="645" y="554" text-anchor="middle" transform="rotate(-31 645 514)">树图 shutu.cn</text>
<text class="wm" x="1928" y="550" text-anchor="middle" transform="rotate(-31 1928 510)">树图 shutu.cn</text>
<text class="wm" x="645" y="1551" text-anchor="middle" transform="rotate(-31 645 1511)">树图 shutu.cn</text>
<text class="wm" x="1928" y="1555" text-anchor="middle" transform="rotate(-31 1928 1515)">树图 shutu.cn</text>
<text class="wm" x="645" y="2543" text-anchor="middle" transform="rotate(-31 645 2503)">树图 shutu.cn</text>
<text class="wm" x="1928" y="2547" text-anchor="middle" transform="rotate(-31 1928 2507)">树图 shutu.cn</text>
</g>
</svg>
